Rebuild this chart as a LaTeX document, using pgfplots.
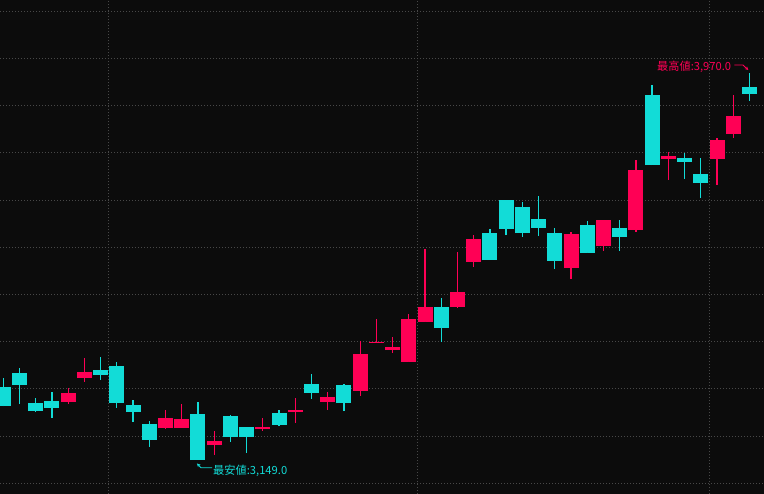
\documentclass[border=0pt]{standalone}
\usepackage{pgfplots}
\pgfplotsset{compat=1.18}
\usepackage{pgfplotstable}
\usepackage{fontspec}
\usetikzlibrary{arrows.meta}
\newfontfamily\cjk{Noto Sans CJK JP}
\definecolor{bgc}{RGB}{12,12,12}
\definecolor{gridc}{RGB}{72,72,72}
\definecolor{upc}{RGB}{255,0,85}
\definecolor{dnc}{RGB}{18,220,215}

% i O H L C  (up candles, close > open)
\pgfplotstableread{
i O H L C
4 3272 3302 3268 3291
5 3323 3366 3315 3336
10 3217 3255 3215 3238
11 3217 3268 3217 3236
13 3181 3211 3160 3190
16 3215 3238 3211 3219
18 3251 3281 3228 3255
20 3272 3294 3255 3283
22 3296 3402 3285 3374
23 3397 3448 3397 3399
24 3382 3410 3376 3389
25 3357 3459 3357 3448
26 3442 3596 3442 3474
28 3474 3590 3471 3505
29 3569 3626 3558 3618
35 3556 3632 3533 3628
37 3603 3658 3592 3658
39 3637 3785 3632 3764
41 3787 3802 3743 3793
44 3787 3832 3732 3827
45 3840 3923 3832 3878
}\up

% down candles, close < open
\pgfplotstableread{
i O H L C
0 3304 3323 3263 3264
1 3334 3344 3268 3308
2 3270 3281 3251 3253
3 3274 3294 3238 3260
6 3340 3368 3319 3330
7 3349 3357 3260 3270
8 3266 3277 3230 3251
9 3226 3232 3177 3192
12 3247 3272 3149 3149
14 3243 3245 3187 3198
15 3219 3220 3164 3198
17 3249 3255 3221 3224
19 3310 3332 3279 3291
21 3308 3310 3253 3270
27 3474 3493 3399 3429
30 3630 3639 3573 3573
31 3700 3700 3626 3639
32 3685 3696 3622 3630
33 3660 3709 3624 3641
34 3630 3641 3554 3571
36 3647 3656 3588 3588
38 3641 3658 3592 3622
40 3923 3944 3774 3774
42 3789 3800 3745 3781
43 3755 3789 3704 3736
46 3940 3970 3910 3925
}\down

\begin{document}
\begin{tikzpicture}
\begin{axis}[
  name=ax,
  scale only axis,
  width=764pt, height=494pt,
  xmin=-0.2035, xmax=46.898,
  ymin=3077.35, ymax=4123.94,
  axis background/.style={fill=bgc},
  axis line style={draw=none},
  major tick length=0pt,
  xtick={6.47,25.52,43.53},
  ytick={3100,3200,...,4100},
  xticklabels={}, yticklabels={},
  grid=major,
  grid style={draw=gridc, line width=1pt, dash pattern=on 1pt off 2pt},
  candle/.style={only marks, mark size=0pt, mark options={draw=none, fill=none}, forget plot},
]
% wicks
\addplot[candle,
  error bars/.cd, y dir=plus, y explicit, error mark=none,
  error bar style={draw=upc, line width=1.3pt}]
  table[x=i, y=L, y error expr=\thisrow{H}-\thisrow{L}] {\up};
\addplot[candle,
  error bars/.cd, y dir=plus, y explicit, error mark=none,
  error bar style={draw=dnc, line width=1.3pt}]
  table[x=i, y=L, y error expr=\thisrow{H}-\thisrow{L}] {\down};
% bodies
\addplot[candle,
  error bars/.cd, y dir=plus, y explicit, error mark=none,
  error bar style={draw=upc, line width=15pt}]
  table[x=i, y=O, y error expr=\thisrow{C}-\thisrow{O}] {\up};
\addplot[candle,
  error bars/.cd, y dir=plus, y explicit, error mark=none,
  error bar style={draw=dnc, line width=15pt}]
  table[x=i, y=C, y error expr=\thisrow{O}-\thisrow{C}] {\down};
% annotations
\draw[dnc, line width=0.9pt, -{Stealth[length=3.5pt,width=3.5pt]}]
  (axis cs:12.87,3133.0) -- (axis cs:12.19,3133.0) -- (axis cs:11.94,3142.0);
\node[anchor=west, inner sep=0pt, text=dnc, font=\cjk\fontsize{11.2}{12}\selectfont]
  at (axis cs:12.93,3127.0) {最安値:3,149.0};
\draw[upc, line width=0.9pt, -{Stealth[length=3.5pt,width=3.5pt]}]
  (axis cs:45.07,3986.2) -- (axis cs:45.60,3986.2) -- (axis cs:45.93,3975.6);
\node[anchor=west, inner sep=0pt, text=upc, font=\cjk\fontsize{11.2}{12}\selectfont]
  at (axis cs:40.30,3982.0) {最高値:3,970.0};
\end{axis}
\pgfresetboundingbox
\useasboundingbox (ax.south west) rectangle (ax.north east);
\end{tikzpicture}
\end{document}
